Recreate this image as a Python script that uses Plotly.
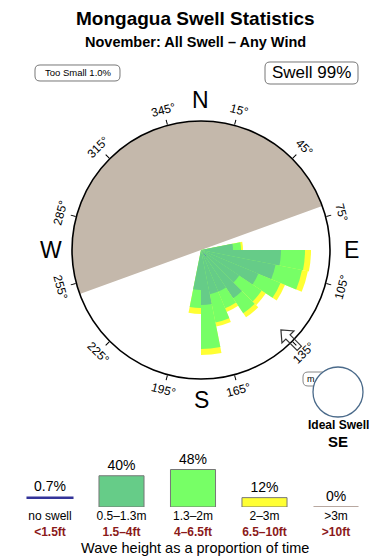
import math
import plotly.graph_objects as go

W, H = 390, 560
FONT = "Liberation Sans, Arial, Helvetica, sans-serif"

# ---------------- data ----------------
dir_centers = [84.375, 95.625, 106.875, 118.125, 129.375, 140.625, 151.875, 163.125, 174.375, 185.625]
# cumulative radial extent (scaled frequency, circle edge = 129)
r_small = [32, 80, 76, 62, 46, 58, 45, 45, 55, 40]     # 0.5-1.3m
r_mid = [40, 104, 103, 86, 73, 76, 63, 74, 99, 58]     # 1.3-2m
r_big = [42, 110, 109, 91, 78, 81, 67, 78, 105, 64]    # 2-3m
no_swell_dir = [140.625]
no_swell_r = [8]
land_center = [340]
land_width = [180]
ideal_dir = 135

tick_angles = [15, 45, 75, 105, 135, 165, 195, 225, 255, 285, 315, 345]
cardinals = ["N", "E", "S", "W"]
cardinal_angles = [0, 90, 180, 270]

legend_cats = ["no swell", "0.5–1.3m", "1.3–2m", "2–3m", ">3m"]
legend_ft = ["&lt;1.5ft", "1.5–4ft", "4–6.5ft", "6.5–10ft", "&gt;10ft"]
legend_pct = [0.7, 40, 48, 12, 0]
legend_pct_text = ["0.7%", "40%", "48%", "12%", "0%"]

# ---------------- style ----------------
C_DARK = "#66cc88"
C_LIGHT = "#77ff66"
C_YEL = "#ffff33"
C_LAND = "#c4b8ab"
R_MAX = 129

def px(x):
    return x / W

def py(y):
    return 1 - y / H

cx, cy, R = 201, 250, 129

fig = go.Figure()

# land shadow
fig.add_trace(go.Barpolar(theta=land_center, r=[R_MAX], width=land_width,
                          marker=dict(color=C_LAND, line=dict(width=0)),
                          hoverinfo="skip", showlegend=False))
# rose
for rr, col in [(r_big, C_YEL), (r_mid, C_LIGHT), (r_small, C_DARK)]:
    fig.add_trace(go.Barpolar(theta=dir_centers, r=rr, width=[11.25] * len(dir_centers),
                              marker=dict(color=col, line=dict(width=0)),
                              showlegend=False))
fig.add_trace(go.Barpolar(theta=no_swell_dir, r=no_swell_r, width=[3],
                          marker=dict(color="#5050e0", line=dict(width=0)), showlegend=False))

fig.update_layout(
    polar=dict(
        domain=dict(x=[px(cx - R), px(cx + R)], y=[py(cy + R), py(cy - R)]),
        bgcolor="white",
        barmode="overlay",
        radialaxis=dict(visible=False, range=[0, R_MAX]),
        angularaxis=dict(rotation=90, direction="clockwise", showgrid=False,
                         linecolor="black", linewidth=1.6,
                         tickmode="array", tickvals=tick_angles, ticks="outside",
                         ticklen=5, tickcolor="black", tickwidth=1,
                         showticklabels=False),
    ),
)

ann = []

def add_text(x, y, text, size, angle=0, color="black"):
    ann.append(dict(x=px(x), y=py(y), xref="paper", yref="paper", text=text,
                    xanchor="center", yanchor="middle", showarrow=False, textangle=angle,
                    font=dict(size=size, color=color, family=FONT)))

# degree labels
for t in tick_angles:
    a = math.radians(t)
    rl = 145
    ta = t if t < 90 else (t - 180 if t < 270 else t - 360)
    add_text(cx + rl * math.sin(a), cy - rl * math.cos(a), f"{t}°", 12, ta)
for lab, t in zip(cardinals, cardinal_angles):
    a = math.radians(t)
    rl = 150
    add_text(cx + rl * math.sin(a), cy - rl * math.cos(a), lab, 23)

# titles & labels
add_text(195, 19, "<b>Mongagua Swell Statistics</b>", 19)
add_text(195, 42, "<b>November: All Swell – Any Wind</b>", 14.5)
add_text(78, 73, "Too Small 1.0%", 9.5)
add_text(311, 73, "Swell 99%", 17)
add_text(311, 379, "m", 9)
add_text(338, 425, "<b>Ideal Swell</b>", 12)
add_text(338, 441, "<b>SE</b>", 15)
add_text(195, 548, "Wave height as a proportion of time", 14.5)

def rounded(x0, y0, x1, y1, r):
    X = lambda v: f"{px(v):.5f}"
    Y = lambda v: f"{py(v):.5f}"
    return (f"M {X(x0 + r)} {Y(y0)} L {X(x1 - r)} {Y(y0)} Q {X(x1)} {Y(y0)} {X(x1)} {Y(y0 + r)} "
            f"L {X(x1)} {Y(y1 - r)} Q {X(x1)} {Y(y1)} {X(x1 - r)} {Y(y1)} "
            f"L {X(x0 + r)} {Y(y1)} Q {X(x0)} {Y(y1)} {X(x0)} {Y(y1 - r)} "
            f"L {X(x0)} {Y(y0 + r)} Q {X(x0)} {Y(y0)} {X(x0 + r)} {Y(y0)} Z")

# ideal swell arrow, pointing towards centre along ideal_dir
def arrow_path(bearing, r_tip, length, head_len, head_w, shaft_w):
    a = math.radians(bearing)
    ux, uy = math.sin(a), -math.cos(a)   # outward unit vector (screen coords)
    vx, vy = -uy, ux                      # perpendicular
    local = [(0, 0), (head_len, head_w / 2), (head_len, shaft_w / 2), (length, shaft_w / 2),
             (length, -shaft_w / 2), (head_len, -shaft_w / 2), (head_len, -head_w / 2)]
    pts = []
    for u, v in local:
        x = cx + (r_tip + u) * ux + v * vx
        y = cy + (r_tip + u) * uy + v * vy
        pts.append(f"{px(x):.5f} {py(y):.5f}")
    return "M " + " L ".join(pts) + " Z"

shapes = [
    dict(type="path", path=rounded(35, 65, 120, 81, 5), xref="paper", yref="paper",
         line=dict(color="#777777", width=1), fillcolor="white", layer="below"),
    dict(type="path", path=rounded(265, 62, 358, 84, 5), xref="paper", yref="paper",
         line=dict(color="#777777", width=1), fillcolor="white", layer="below"),
    dict(type="path", path=rounded(303, 372, 330, 386, 5), xref="paper", yref="paper",
         line=dict(color="#888888", width=1), fillcolor="white"),
    dict(type="circle", xref="paper", yref="paper", x0=px(313), x1=px(363), y0=py(417), y1=py(367),
         line=dict(color="#4a6a8a", width=1.3), fillcolor="white"),
    dict(type="path", path=arrow_path(ideal_dir, 113, 26, 10, 17, 6), xref="paper", yref="paper",
         line=dict(color="#333333", width=1.2)),
]

# legend bar chart
base = [11.5, 0, 0, 0, 0]
ticktext = [f"{c}<br><b><span style='color:#8b1a1a'>{f}</span></b>" for c, f in zip(legend_cats, legend_ft)]
fig.add_trace(go.Bar(x=list(range(5)), y=legend_pct, base=base, width=0.63,
                     marker=dict(color=["#333399", C_DARK, C_LIGHT, C_YEL, "#b8a8a0"],
                                 line=dict(color=["#333399", "#777777", "#777777", "#777777", "#b8a8a0"],
                                           width=[2, 1, 1, 1, 2])),
                     text=legend_pct_text, textposition="outside", cliponaxis=False,
                     textfont=dict(size=14, color="black", family=FONT),
                     xaxis="x", yaxis="y", showlegend=False))

fig.update_layout(
    width=W, height=H, margin=dict(l=0, r=0, t=0, b=0),
    paper_bgcolor="white", plot_bgcolor="rgba(0,0,0,0)",
    font=dict(family=FONT),
    xaxis=dict(domain=[px(14.25), px(371.75)], range=[-0.5, 4.5], anchor="y",
               tickmode="array", tickvals=list(range(5)), ticktext=ticktext,
               showgrid=False, zeroline=False, showline=False, ticks="",
               tickfont=dict(size=12, color="black", family=FONT)),
    yaxis=dict(domain=[py(507), py(457)], range=[0, 64], visible=False, anchor="x"),
    annotations=ann, shapes=shapes,
    showlegend=False,
)

fig.write_html("out.html")
